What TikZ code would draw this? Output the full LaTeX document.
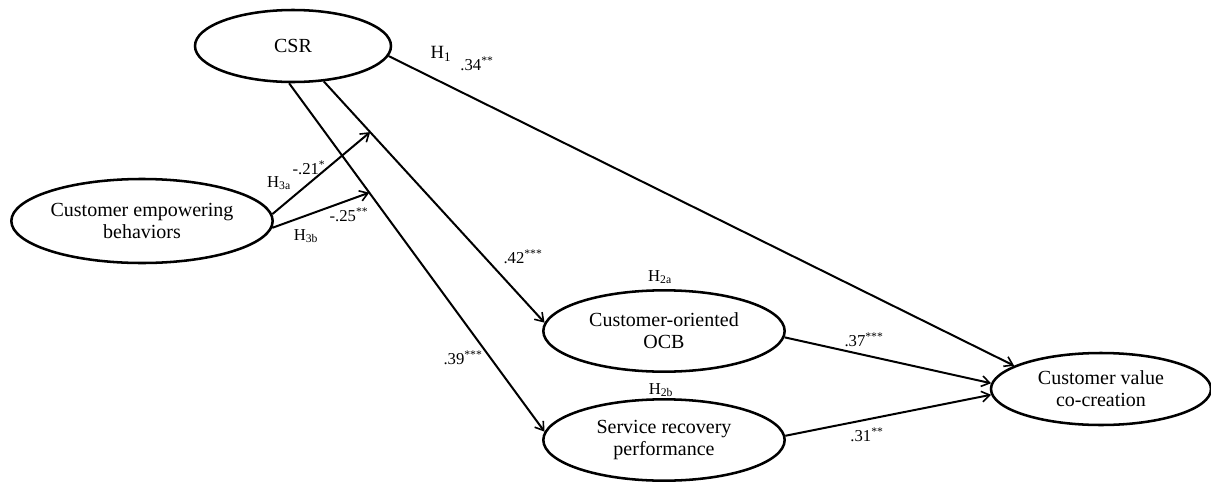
\documentclass[tikz,border=0pt]{standalone}
\usepackage{fontspec}
\setmainfont{Liberation Serif}
\usetikzlibrary{shapes.geometric,arrows.meta}

\tikzset{
  latent/.style={draw, ellipse, line width=1.9pt, inner sep=0pt, align=center,
    font=\fontsize{15}{16.5}\selectfont},
  link/.style={line width=1.5pt, -{Straight Barb[length=6pt,width=8pt,line width=1.2pt]}},
  coef/.style={inner sep=0pt, font=\fontsize{12.5}{14}\selectfont}
}

\begin{document}
\begin{tikzpicture}[x=0.75pt, y=-0.75pt]
	%%%%% START %%%%%
	\useasboundingbox (0,0) rectangle (1211,482);
	
	% constructs
	\node[latent, minimum width=147pt, minimum height=54pt] (csr) at (293,46) {CSR};
	\node[latent, minimum width=196pt, minimum height=63pt] (ceb) at (142,221) {Customer empowering\\behaviors};
	\node[latent, minimum width=181pt, minimum height=61pt] (ocb) at (664,331) {Customer-oriented\\OCB};
	\node[latent, minimum width=181pt, minimum height=61pt] (srp) at (664,440) {Service recovery\\performance};
	\node[latent, minimum width=165pt, minimum height=54pt] (cvc) at (1101,389) {Customer value\\co-creation};
	
	% paths
	\draw[link] (csr.-6) -- (cvc.165);
	\draw[link] (csr.-49) -- coordinate[pos=0.21] (m1) (ocb.176);
	\draw[link] (csr.-96) -- coordinate[pos=0.314] (m2) (srp.176);
	\draw[link] (ceb.3) -- (m1);
	\draw[link] (ceb.-3) -- (m2);
	\draw[link] (ocb.-3) -- (cvc.177);
	\draw[link] (srp.2) -- (cvc.183);
	
	% hypotheses and coefficients
	\node[coef, font=\fontsize{14}{15}\selectfont] (h1) at (441,54) {H\textsubscript{1}};
	\node[coef] (b1) at (477,64) {.34\textsuperscript{**}};
	\node[coef] (h3a) at (279,183) {H\textsubscript{3a}};
	\node[coef] (b3a) at (309,168) {-.21\textsuperscript{*}};
	\node[coef] (b3b) at (349,215) {-.25\textsuperscript{**}};
	\node[coef] (h3b) at (306,236) {H\textsubscript{3b}};
	\node[coef] (b2a) at (523,257) {.42\textsuperscript{***}};
	\node[coef] (h2a) at (660,277) {H\textsubscript{2a}};
	\node[coef] (b2b) at (463,358) {.39\textsuperscript{***}};
	\node[coef] (h2b) at (661,390) {H\textsubscript{2b}};
	\node[coef] (b4) at (864,340) {.37\textsuperscript{***}};
	\node[coef] (b5) at (867,435) {.31\textsuperscript{**}};
	%%%%% END %%%%%
\end{tikzpicture}
\end{document}
